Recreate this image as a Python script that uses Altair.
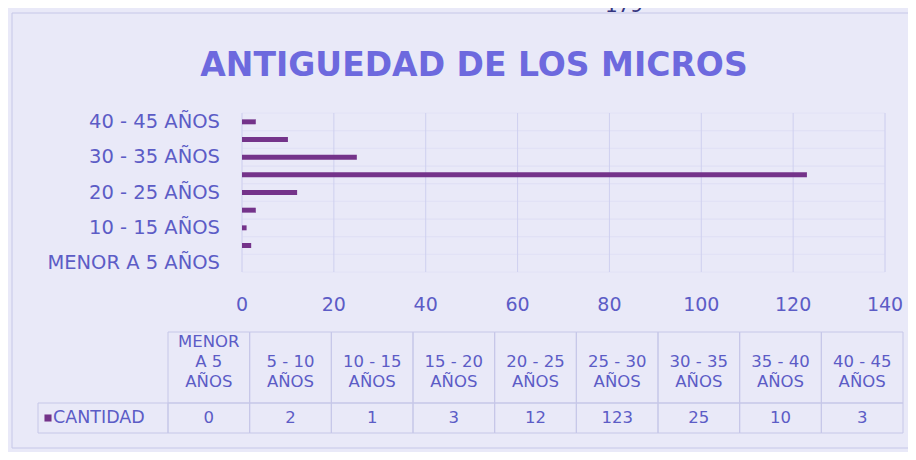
import altair as alt
import pandas as pd

# ---------------- data ----------------
title_text = "ANTIGUEDAD DE LOS MICROS"
page_number = "179"
series_name = "CANTIDAD"
categories = ["MENOR A 5 AÑOS", "5 - 10 AÑOS", "10 - 15 AÑOS", "15 - 20 AÑOS",
              "20 - 25 AÑOS", "25 - 30 AÑOS", "30 - 35 AÑOS", "35 - 40 AÑOS",
              "40 - 45 AÑOS"]
values = [0, 2, 1, 3, 12, 123, 25, 10, 3]
header_labels = ["MENOR\nA 5\nAÑOS", "5 - 10\nAÑOS", "10 - 15\nAÑOS", "15 - 20\nAÑOS",
                 "20 - 25\nAÑOS", "25 - 30\nAÑOS", "30 - 35\nAÑOS", "35 - 40\nAÑOS",
                 "40 - 45\nAÑOS"]
x_ticks = [0, 20, 40, 60, 80, 100, 120, 140]

# ---------------- style ----------------
W, H = 900, 444
BG = "#e9e9f8"
BAR = "#74338a"
TXT = "#5c5cc6"
TITLE = "#6d69de"
LINE = "#c6c7e8"
GRID = "#cfd0ef"
FONT = "DejaVu Sans"

PLOT_X = [234, 877]
PLOT_Y = [105, 264]
TABLE_X = [160, 895]

df = pd.DataFrame({"cat": categories, "value": values, "header": header_labels})
df["ylabel"] = [c if i % 2 == 0 else "" for i, c in enumerate(categories)]
ticks_df = pd.DataFrame({"tick": x_ticks})

# header lines in long form; line position counted from the bottom line (0)
rows = []
for cat, lab in zip(categories, header_labels):
    parts = lab.split("\n")
    for i, p in enumerate(parts):
        rows.append({"cat": cat, "line": p, "pos": i - (len(parts) - 1)})
head_df = pd.DataFrame(rows)

one = lambda **kw: pd.DataFrame({k: [v] for k, v in kw.items()})

top_down = categories[::-1]
xs = alt.Scale(domain=[0, 140], range=PLOT_X, nice=False, zero=True)
y_band = alt.Scale(type="band", domain=top_down, range=PLOT_Y, paddingInner=0, paddingOuter=0)
y_bar = alt.Scale(type="band", domain=top_down, range=PLOT_Y, paddingInner=0.72, paddingOuter=0.36)
y_point = alt.Scale(type="point", domain=top_down, range=PLOT_Y, padding=0.5)
t_band = alt.Scale(type="band", domain=categories, range=TABLE_X, paddingInner=0, paddingOuter=0)
t_point = alt.Scale(type="point", domain=categories, range=TABLE_X, padding=0.5)
line_scale = alt.Scale(domain=[-2, 0], range=[334, 374], nice=False, zero=False)

frame = alt.Chart(one(a=0)).mark_rect(fillOpacity=0, stroke=LINE, strokeWidth=1).encode(
    x=alt.value(4), x2=alt.value(920), y=alt.value(5), y2=alt.value(440))

page = alt.Chart(one(t=page_number)).mark_text(
    font=FONT, fontSize=20, color="#34347e", baseline="alphabetic", align="center").encode(
    x=alt.value(616), y=alt.value(4), text="t:N")

title = alt.Chart(one(t=title_text)).mark_text(
    font=FONT, fontSize=33, fontWeight="bold", color=TITLE, baseline="middle", align="center").encode(
    x=alt.value(466), y=alt.value(58), text="t:N")

bands = alt.Chart(df).mark_rect(fillOpacity=0, stroke="#dfe0f5", strokeWidth=0.8).encode(
    y=alt.Y("cat:N", scale=y_band, axis=None), x=alt.value(PLOT_X[0]), x2=alt.value(PLOT_X[1]))

grid = alt.Chart(ticks_df).mark_rule(color=GRID, strokeWidth=1).encode(
    x=alt.X("tick:Q", scale=xs, axis=None), y=alt.value(PLOT_Y[0]), y2=alt.value(PLOT_Y[1]))

bars = alt.Chart(df).mark_bar(color=BAR).encode(
    x=alt.X("value:Q", scale=xs, axis=None), y=alt.Y("cat:N", scale=y_bar, axis=None))

ylabels = alt.Chart(df).mark_text(
    font=FONT, fontSize=19.5, color=TXT, align="right", baseline="middle").encode(
    y=alt.Y("cat:N", scale=y_point, axis=None), x=alt.value(212), text="ylabel:N")

xlabels = alt.Chart(ticks_df).mark_text(
    font=FONT, fontSize=19, color=TXT, align="center", baseline="middle").encode(
    x=alt.X("tick:Q", scale=xs, axis=None), y=alt.value(297), text="tick:Q")

head_cells = alt.Chart(df).mark_rect(fillOpacity=0, stroke=LINE, strokeWidth=1).encode(
    x=alt.X("cat:N", scale=t_band, axis=None), y=alt.value(324), y2=alt.value(395))
val_cells = alt.Chart(df).mark_rect(fillOpacity=0, stroke=LINE, strokeWidth=1).encode(
    x=alt.X("cat:N", scale=t_band, axis=None), y=alt.value(395), y2=alt.value(425))
row_cell = alt.Chart(one(a=0)).mark_rect(fillOpacity=0, stroke=LINE, strokeWidth=1).encode(
    x=alt.value(30), x2=alt.value(TABLE_X[0]), y=alt.value(395), y2=alt.value(425))

head_text = alt.Chart(head_df).mark_text(
    font=FONT, fontSize=16.5, color=TXT, align="center", baseline="middle").encode(
    x=alt.X("cat:N", scale=t_point, axis=None),
    y=alt.Y("pos:Q", scale=line_scale, axis=None), text="line:N")

val_text = alt.Chart(df).mark_text(
    font=FONT, fontSize=16.5, color=TXT, align="center", baseline="middle").encode(
    x=alt.X("cat:N", scale=t_point, axis=None), y=alt.value(410), text="value:Q")

swatch = alt.Chart(one(a=0)).mark_square(size=50, color=BAR, opacity=1).encode(
    x=alt.value(40), y=alt.value(410))
row_text = alt.Chart(one(t=series_name)).mark_text(
    font=FONT, fontSize=17.5, color=TXT, align="left", baseline="middle").encode(
    x=alt.value(45), y=alt.value(410), text="t:N")

chart = alt.layer(
    frame, page, title, bands, grid, bars, ylabels, xlabels,
    head_cells, val_cells, row_cell, head_text, val_text, swatch, row_text
).resolve_scale(x="independent", y="independent").properties(
    width=W, height=H, autosize=alt.AutoSizeParams(type="none"), padding=0,
    background=BG
).configure_view(strokeWidth=0)

chart.save("out.html", embed_options={"renderer": "svg", "actions": False})
